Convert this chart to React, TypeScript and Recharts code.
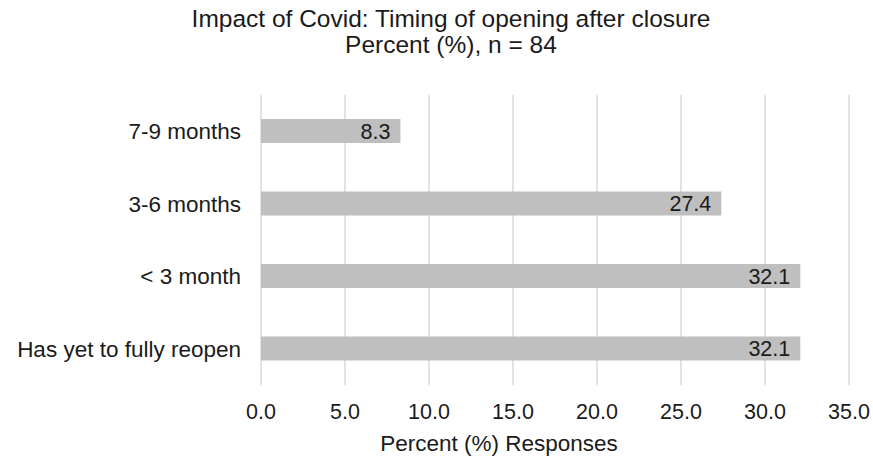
import { BarChart, Bar, XAxis, YAxis, CartesianGrid, LabelList } from 'recharts'

const CATEGORIES = ['7-9 months', '3-6 months', '< 3 month', 'Has yet to fully reopen']
const PERCENTS = [8.3, 27.4, 32.1, 32.1]
const X_TICKS = [0, 5, 10, 15, 20, 25, 30, 35]

const FONT = '"Liberation Sans", Arial, sans-serif'
const TEXT = '#1a1a1a'

const chartData = CATEGORIES.map((name, i) => ({ name, value: PERCENTS[i] }))

export default function App() {
  return (
    <div style={{ position: 'absolute', left: 0, top: 0, width: 873, height: 470, fontFamily: FONT, background: '#fff' }}>
      <div
        style={{
          position: 'absolute', top: 6, left: 51, width: 800, textAlign: 'center',
          fontSize: 24.5, lineHeight: '26px', color: TEXT, whiteSpace: 'nowrap',
        }}
      >
        <div>Impact of Covid: Timing of opening after closure</div>
        <div>Percent (%), n = 84</div>
      </div>
      <BarChart
        width={873}
        height={470}
        data={chartData}
        layout="vertical"
        margin={{ top: 95, right: 24, bottom: 25, left: 0 }}
      >
        <CartesianGrid horizontal={false} stroke="#d9d9d9" strokeWidth={1.5} />
        <XAxis
          type="number"
          domain={[0, 35]}
          ticks={X_TICKS}
          tickFormatter={(v: number) => v.toFixed(1)}
          axisLine={false}
          tickLine={false}
          tickSize={0}
          tickMargin={19}
          height={60}
          tick={{ fill: TEXT, fontSize: 21.5, fontFamily: FONT }}
        />
        <YAxis
          type="category"
          dataKey="name"
          width={261}
          axisLine={false}
          tickLine={false}
          tickSize={0}
          tickMargin={20}
          tick={{ fill: TEXT, fontSize: 22.5, fontFamily: FONT }}
        />
        <Bar dataKey="value" fill="#bfbfbf" barSize={24} isAnimationActive={false}>
          <LabelList
            dataKey="value"
            position="insideRight"
            offset={10}
            formatter={(v: number) => v.toFixed(1)}
            style={{ fill: TEXT, fontSize: 21.5, fontFamily: FONT }}
          />
        </Bar>
      </BarChart>
      <div
        style={{
          position: 'absolute', top: 431, left: 349, width: 300, textAlign: 'center',
          fontSize: 22.5, color: TEXT, whiteSpace: 'nowrap',
        }}
      >
        Percent (%) Responses
      </div>
    </div>
  )
}
